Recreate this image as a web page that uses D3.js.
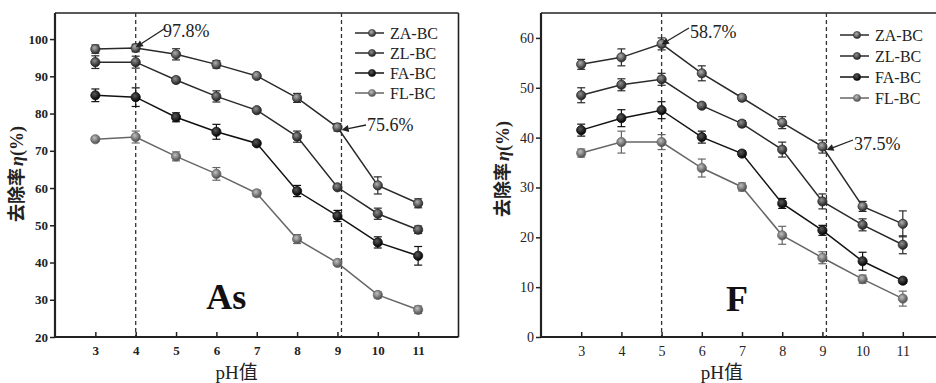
<!DOCTYPE html>
<html><head><meta charset="utf-8">
<script src="https://cdn.jsdelivr.net/npm/d3@7"></script>
<style>body{margin:0;background:#fff}svg{display:block}</style>
</head><body>
<svg id="c" width="936" height="383"></svg>
<script>
const pH = [3,4,5,6,7,8,9,10,11];
const seriesNames = ["ZA-BC","ZL-BC","FA-BC","FL-BC"];
// As panel
const asZA = [97.3,97.6,95.9,93.2,90.1,84.2,76.3,60.7,55.9];
const asZL = [93.8,93.8,89.0,84.6,80.9,73.8,60.2,53.1,48.8];
const asFA = [84.9,84.4,79.0,75.1,72.0,59.2,52.5,45.4,41.8];
const asFL = [73.1,73.7,68.5,63.8,58.6,46.3,39.9,31.3,27.3];
const asZAerr = [1.1,1.0,1.5,1.0,0.5,1.2,1.0,2.3,1.2];
const asZLerr = [1.7,1.6,0.7,1.5,0.5,1.5,0.5,1.5,1.0];
const asFAerr = [1.7,2.5,1.2,2.0,0.5,1.5,1.5,1.5,2.5];
const asFLerr = [0.5,1.6,1.2,1.7,0.8,1.2,0.6,0.8,1.0];
// F panel
const fZA = [54.7,56.1,58.8,52.9,48.0,43.0,38.2,26.2,22.7];
const fZL = [48.5,50.6,51.7,46.4,42.8,37.6,27.2,22.5,18.5];
const fFA = [41.5,43.9,45.5,40.1,36.8,26.8,21.4,15.2,11.3];
const fFL = [36.9,39.1,39.1,33.9,30.1,20.4,15.9,11.6,7.7];
const fZAerr = [1.0,1.7,1.2,1.5,0.6,1.2,1.3,1.0,2.6];
const fZLerr = [1.5,1.2,1.2,0.5,0.6,1.5,1.5,1.2,1.8];
const fFAerr = [1.2,1.7,1.7,1.2,0.5,1.0,1.0,1.8,0.5];
const fFLerr = [0.8,2.2,1.5,1.8,0.8,1.8,1.2,0.8,1.5];
const asYTicks = [20,30,40,50,60,70,80,90,100];
const fYTicks = [0,10,20,30,40,50,60];

const svg = d3.select("#c");
const defs = svg.append("defs");
const styles = [
  {line:"#2a2a2a", c0:"#b0b0b0", c1:"#2a2a2a"},
  {line:"#2a2a2a", c0:"#909090", c1:"#1e1e1e"},
  {line:"#111111", c0:"#5a5a5a", c1:"#000000"},
  {line:"#666666", c0:"#c0c0c0", c1:"#4a4a4a"}
];
styles.forEach((s,i)=>{
  const g = defs.append("radialGradient").attr("id","g"+i).attr("cx","40%").attr("cy","35%").attr("r","65%");
  g.append("stop").attr("offset","0%").attr("stop-color",s.c0);
  g.append("stop").attr("offset","100%").attr("stop-color",s.c1);
});
const SERIF = "Liberation Serif, serif";

function panel(opt){
  const x = d3.scaleLinear().domain([2,12]).range([opt.left, opt.left + 10*opt.unit]);
  const y = d3.scaleLinear().domain(opt.yDomain).range([opt.bottom, opt.top]);
  const g = svg.append("g");
  g.append("line").attr("x1",x(2)).attr("x2",Math.min(x(12),936)).attr("y1",opt.top).attr("y2",opt.top)
    .attr("stroke","#222").attr("stroke-width",1.6);
  if (x(12) <= 936) g.append("line").attr("x1",x(12)).attr("x2",x(12)).attr("y1",opt.top).attr("y2",opt.bottom)
    .attr("stroke","#222").attr("stroke-width",1.6);
  opt.dashes.forEach(v=>{
    g.append("line").attr("x1",x(v)).attr("x2",x(v)).attr("y1",opt.top).attr("y2",opt.bottom)
      .attr("stroke","#333").attr("stroke-width",1.3).attr("stroke-dasharray","4,3");
  });
  const ya = d3.axisLeft(y).tickValues(opt.yTicks).tickSize(5).tickPadding(2);
  const yg = g.append("g").attr("transform",`translate(${x(2)},0)`).call(ya);
  const xa = d3.axisBottom(x).tickValues(pH).tickSize(-5).tickPadding(9);
  const xg = g.append("g").attr("transform",`translate(0,${opt.bottom})`).call(xa);
  [yg,xg].forEach(a=>{
    a.attr("font-family",SERIF);
    a.select(".domain").attr("stroke","#222").attr("stroke-width",2.2);
    a.selectAll(".tick line").attr("stroke","#222").attr("stroke-width",1.5);
    a.selectAll("text").attr("fill","#222").attr("font-family",SERIF)
      .attr("font-size",opt.bold?13:14).attr("font-weight",opt.bold?"bold":"normal");
  });
  yg.select(".domain").attr("d",`M0,${opt.bottom}V${opt.top}`);
  xg.select(".domain").attr("d",`M${x(2)},0H${Math.min(x(12),936)}`);
  opt.series.forEach((s,i)=>{
    const st = styles[i];
    const line = d3.line().x((d,j)=>x(pH[j])).y(d=>y(d));
    g.append("path").attr("d",line(s.v)).attr("fill","none").attr("stroke",st.line).attr("stroke-width",1.5);
    s.v.forEach((v,j)=>{
      const e = s.e[j], cx = x(pH[j]);
      g.append("line").attr("x1",cx).attr("x2",cx).attr("y1",y(v-e)).attr("y2",y(v+e)).attr("stroke",st.line).attr("stroke-width",1.2);
      [v-e,v+e].forEach(w=>g.append("line").attr("x1",cx-4).attr("x2",cx+4).attr("y1",y(w)).attr("y2",y(w)).attr("stroke",st.line).attr("stroke-width",1.2));
    });
    g.selectAll(null).data(s.v).enter().append("circle")
      .attr("cx",(d,j)=>x(pH[j])).attr("cy",d=>y(d)).attr("r",4.6)
      .attr("fill",`url(#g${i})`).attr("stroke",st.line).attr("stroke-width",0.8);
  });
  seriesNames.forEach((n,i)=>{
    const ly = opt.legY + i*opt.legStep;
    const st = styles[i];
    g.append("line").attr("x1",opt.legX).attr("x2",opt.legX+29).attr("y1",ly).attr("y2",ly).attr("stroke",st.line).attr("stroke-width",1.5);
    g.append("circle").attr("cx",opt.legX+17).attr("cy",ly).attr("r",3.6).attr("fill",`url(#g${i})`).attr("stroke",st.line).attr("stroke-width",0.6);
    g.append("text").attr("x",opt.legX+35).attr("y",ly+5.5).text(n).attr("fill","#222")
      .attr("font-family",SERIF).attr("font-size",16);
  });
  opt.notes.forEach(n=>{
    g.append("text").attr("x",n.tx).attr("y",n.ty).text(n.t).attr("fill","#222")
      .attr("font-family",SERIF).attr("font-size",18);
    const px = x(n.px), py = y(n.py);
    const ang = Math.atan2(py - n.sy, px - n.sx);
    const hx = px - 7*Math.cos(ang), hy = py - 7*Math.sin(ang);
    g.append("line").attr("x1",n.sx).attr("y1",n.sy).attr("x2",hx).attr("y2",hy).attr("stroke","#222").attr("stroke-width",1.3);
    const a1 = ang + 0.45, a2 = ang - 0.45;
    g.append("path").attr("d",`M${px},${py}L${px-8*Math.cos(a1)},${py-8*Math.sin(a1)}L${px-8*Math.cos(a2)},${py-8*Math.sin(a2)}Z`).attr("fill","#222");
  });
  g.append("text").attr("x",x(opt.big.x)).attr("y",opt.big.y).text(opt.big.t).attr("fill","#111")
    .attr("font-family",SERIF).attr("font-size",36).attr("font-weight","bold");
  const yt = g.append("text").attr("transform",`translate(${opt.ytX},${opt.ytY}) rotate(-90)`).attr("text-anchor","middle")
    .attr("fill","#222").attr("font-size",18).attr("font-weight","bold").attr("font-family",SERIF);
  yt.append("tspan").attr("font-family","Noto Sans CJK SC").text("去除率");
  yt.append("tspan").attr("font-style","italic").attr("dx",2).text("η");
  yt.append("tspan").text("(%)");
  const xt = g.append("text").attr("x",x(6.5)).attr("y",379).attr("text-anchor","middle").attr("fill","#222")
    .attr("font-size",19).attr("font-family",SERIF);
  xt.append("tspan").text("pH");
  xt.append("tspan").attr("font-family","Noto Sans CJK SC").text("值");
}

panel({
  left:55, unit:40.35, top:13, bottom:337, yDomain:[20,107], yTicks:asYTicks, bold:true,
  dashes:[4,9.1],
  series:[{v:asZA,e:asZAerr},{v:asZL,e:asZLerr},{v:asFA,e:asFAerr},{v:asFL,e:asFLerr}],
  legX:355, legY:33, legStep:20,
  notes:[{t:"97.8%",tx:163,ty:37,sx:164,sy:29,px:4,py:97.8},{t:"75.6%",tx:367,ty:131,sx:366,sy:125,px:9.1,py:75.6}],
  big:{t:"As",x:5.75,y:309}, ytX:23, ytY:174
});
panel({
  left:541, unit:40.2, top:13, bottom:337, yDomain:[0,65], yTicks:fYTicks, bold:false,
  dashes:[5,9.1],
  series:[{v:fZA,e:fZAerr},{v:fZL,e:fZLerr},{v:fFA,e:fFAerr},{v:fFL,e:fFLerr}],
  legX:840, legY:35, legStep:21,
  notes:[{t:"58.7%",tx:690,ty:38,sx:689,sy:28,px:5,py:58.7},{t:"37.5%",tx:854,ty:150,sx:853,sy:140,px:9.1,py:37.5}],
  big:{t:"F",x:6.6,y:311}, ytX:509, ytY:169
});
</script>
</body></html>
